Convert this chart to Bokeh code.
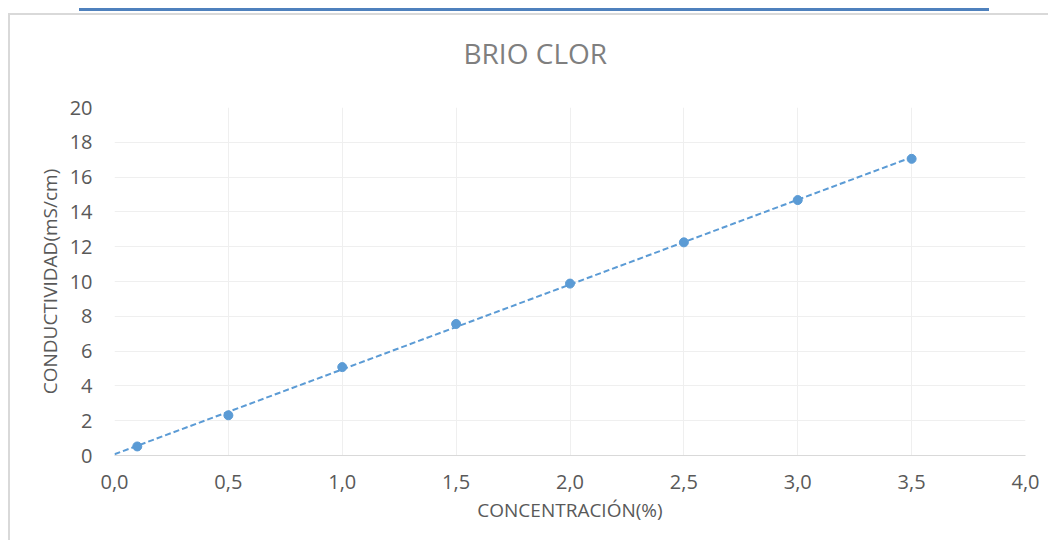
import numpy as np
from bokeh.plotting import figure
from bokeh.layouts import column
from bokeh.models import Div, Range1d, FixedTicker, CustomJSTickFormatter, ColumnDataSource, Title
from bokeh.embed import file_html
from bokeh.resources import INLINE

# data
concentracion = [0.1, 0.5, 1.0, 1.5, 2.0, 2.5, 3.0, 3.5]
conductividad = [0.52, 2.31, 5.08, 7.56, 9.88, 12.25, 14.68, 17.05]
x_ticks = [0, 0.5, 1.0, 1.5, 2.0, 2.5, 3.0, 3.5, 4.0]
y_ticks = [0, 2, 4, 6, 8, 10, 12, 14, 16, 18, 20]
titulo = "BRIO CLOR"

# linear trendline (least squares fit of the points), drawn from 0 to the last point
slope, intercept = np.polyfit(concentracion, conductividad, 1)
trend_x = [0.0, max(concentracion)]
trend_y = [intercept + slope * v for v in trend_x]

BLUE = "#5b9bd5"
TXT = "#595959"
FONT = "Open Sans"

p = figure(width=1040, height=527, output_backend="svg", toolbar_location=None,
           x_range=Range1d(0, 4), y_range=Range1d(0, 20),
           min_border_left=104, min_border_right=25, min_border_top=92, min_border_bottom=87,
           margin=(0, 0, 0, 8),
           styles={"border-left": "2px solid #d9d9d9", "border-top": "2px solid #d9d9d9"})
p.outline_line_color = None
p.background_fill_color = "white"
p.border_fill_color = "white"

# empty spacer title next to the plot area, then the chart title above it
p.add_layout(Title(text=" ", text_font_size="10px", standoff=18, text_color="white"), "above")
p.add_layout(Title(text=titulo, text_font=FONT, text_font_size="28px", text_font_style="normal",
                   text_color="#7f7f7f", align="left", offset=349, standoff=10), "above")

p.xaxis.ticker = FixedTicker(ticks=x_ticks)
p.yaxis.ticker = FixedTicker(ticks=y_ticks)
p.xaxis.formatter = CustomJSTickFormatter(code="return tick.toFixed(1).replace('.', ',');")

for ax in (p.xaxis, p.yaxis):
    ax.major_tick_line_color = None
    ax.minor_tick_line_color = None
    ax.major_label_text_font = FONT
    ax.major_label_text_font_size = "20px"
    ax.major_label_text_color = TXT
    ax.axis_label_text_font = FONT
    ax.axis_label_text_font_size = "19px"
    ax.axis_label_text_font_style = "normal"
    ax.axis_label_text_color = TXT

p.xaxis.axis_line_color = "#d9d9d9"
p.yaxis.axis_line_color = None
p.xaxis.major_label_standoff = 13
p.yaxis.major_label_standoff = 16
p.xaxis.axis_label = "CONCENTRACIÓN(%)"
p.yaxis.axis_label = "CONDUCTIVIDAD(mS/cm)"
p.xaxis.axis_label_standoff = 5
p.yaxis.axis_label_standoff = 4

p.xgrid.grid_line_color = "#efefef"
p.ygrid.grid_line_color = "#efefef"

p.line(trend_x, trend_y, line_color=BLUE, line_width=2, line_dash="6 3")
src = ColumnDataSource(dict(x=concentracion, y=conductividad))
p.scatter("x", "y", source=src, size=9, fill_color=BLUE, line_color=BLUE)

bar = Div(width=910, height=3, margin=(8, 0, 2, 79), styles={"background-color": "#4f81bd"})

layout = column(bar, p, spacing=0)
open("out.html", "w").write(file_html(layout, INLINE))
